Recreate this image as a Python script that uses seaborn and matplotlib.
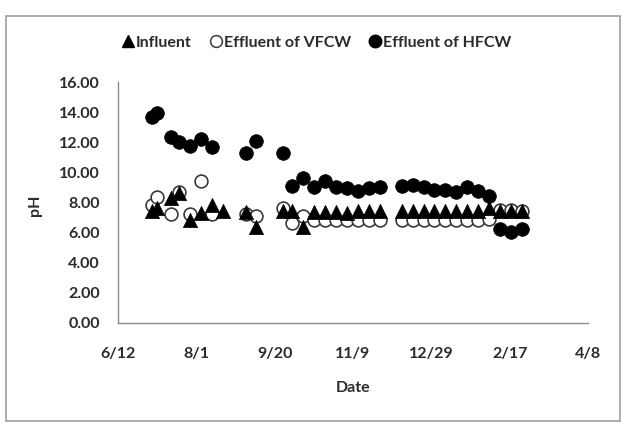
import matplotlib
matplotlib.use("Agg")
import matplotlib.pyplot as plt
import matplotlib.dates as mdates
from matplotlib.patches import Rectangle
from matplotlib.lines import Line2D
import seaborn as sns
import pandas as pd

YEAR_A = 2012
YEAR_B = 2013

influent_dates = ["7/4", "7/7", "7/16", "7/21", "7/28", "8/4", "8/11", "8/18", "9/2", "9/8",
                  "9/25", "10/1", "10/8", "10/15", "10/22", "10/29", "11/5", "11/12", "11/19", "11/26",
                  "12/10", "12/17", "12/24", "12/31", "1/7", "1/14", "1/21", "1/28", "2/4", "2/11",
                  "2/18", "2/25"]
influent_ph = [7.4, 7.6, 8.3, 8.6, 6.8, 7.3, 7.8, 7.45, 7.35, 6.35,
               7.4, 7.4, 6.35, 7.35, 7.35, 7.35, 7.3, 7.4, 7.45, 7.45,
               7.4, 7.4, 7.4, 7.4, 7.4, 7.4, 7.4, 7.4, 7.6, 7.45,
               7.45, 7.4]

vfcw_dates = ["7/4", "7/7", "7/16", "7/21", "7/28", "8/4", "8/11", "9/2", "9/8",
              "9/25", "10/1", "10/8", "10/15", "10/22", "10/29", "11/5", "11/12", "11/19", "11/26",
              "12/10", "12/17", "12/24", "12/31", "1/7", "1/14", "1/21", "1/28", "2/4", "2/11",
              "2/18", "2/25"]
vfcw_ph = [7.8, 8.35, 7.25, 8.7, 7.25, 9.4, 7.2, 7.25, 7.1,
           7.6, 6.6, 7.1, 6.8, 6.85, 6.8, 6.8, 6.8, 6.8, 6.8,
           6.85, 6.8, 6.8, 6.8, 6.8, 6.8, 6.8, 6.8, 6.9, 7.5,
           7.5, 7.45]

hfcw_dates = ["7/4", "7/7", "7/16", "7/21", "7/28", "8/4", "8/11", "9/2", "9/8",
              "9/25", "10/1", "10/8", "10/15", "10/22", "10/29", "11/5", "11/12", "11/19", "11/26",
              "12/10", "12/17", "12/24", "12/31", "1/7", "1/14", "1/21", "1/28", "2/4", "2/11",
              "2/18", "2/25"]
hfcw_ph = [13.7, 13.95, 12.35, 12.0, 11.75, 12.2, 11.65, 11.3, 12.05,
           11.3, 9.1, 9.6, 9.0, 9.45, 9.05, 8.95, 8.75, 8.95, 9.05,
           9.1, 9.15, 9.05, 8.85, 8.85, 8.7, 9.05, 8.75, 8.4, 6.2,
           6.05, 6.2]

series_names = ["Influent", "Effluent of VFCW", "Effluent of HFCW"]
x_start = "6/12/2012"
x_end = "4/8/2013"
y_ticks = [0, 2, 4, 6, 8, 10, 12, 14, 16]


def to_dates(md_list):
    out = []
    for s in md_list:
        m, d = (int(v) for v in s.split("/"))
        yr = YEAR_A if m >= 6 else YEAR_B
        out.append(pd.Timestamp(year=yr, month=m, day=d))
    return out


df_inf = pd.DataFrame({"Date": to_dates(influent_dates), "pH": influent_ph})
df_v = pd.DataFrame({"Date": to_dates(vfcw_dates), "pH": vfcw_ph})
df_h = pd.DataFrame({"Date": to_dates(hfcw_dates), "pH": hfcw_ph})

sns.set_style("white")
plt.rcParams["font.family"] = ["Lato", "DejaVu Sans"]

W, H = 626, 424
fig = plt.figure(figsize=(W / 100, H / 100), dpi=100)
fig.patch.set_facecolor("white")

# outer chart border
fig.patches.append(Rectangle((6 / W, 1 - 421 / H), (620 - 6) / W, (421 - 16) / H,
                             transform=fig.transFigure, fill=False,
                             edgecolor="#a6a6a6", linewidth=1.3))

x0, x1, yb, yt = 118, 588, 322.7, 82
ax = fig.add_axes([x0 / W, 1 - yb / H, (x1 - x0) / W, (yb - yt) / H])

text_col = "#2b2b2b"
sns.scatterplot(data=df_v, x="Date", y="pH", ax=ax, marker="o", s=85,
                facecolor="white", edgecolor="#3a3a3a", linewidth=1.2, zorder=2)
sns.scatterplot(data=df_inf, x="Date", y="pH", ax=ax, marker="^", s=105,
                color="black", edgecolor="black", linewidth=0.5, zorder=3)
sns.scatterplot(data=df_h, x="Date", y="pH", ax=ax, marker="o", s=97,
                color="black", edgecolor="black", linewidth=0.5, zorder=4)

ax.set_xlim(pd.Timestamp(x_start), pd.Timestamp(x_end))
ax.set_ylim(0, 16)
ticks = pd.date_range(x_start, x_end, freq="50D")
ax.set_xticks(ticks)
ax.xaxis.set_major_formatter(matplotlib.ticker.FuncFormatter(
    lambda v, p: f"{mdates.num2date(v).month}/{mdates.num2date(v).day}"))
ax.set_yticks(y_ticks)
ax.yaxis.set_major_formatter(matplotlib.ticker.FormatStrFormatter("%.2f"))

for side in ["top", "right"]:
    ax.spines[side].set_visible(False)
for side in ["left", "bottom"]:
    ax.spines[side].set_color("#8c8c8c")
    ax.spines[side].set_linewidth(1.0)

ax.tick_params(axis="x", direction="out", length=4, width=1, color="#8c8c8c",
               pad=13.5, labelsize=11.5, labelcolor=text_col)
ax.tick_params(axis="y", direction="out", length=4, width=1, color="#8c8c8c",
               pad=9, labelsize=11.5, labelcolor=text_col)
for lab in ax.get_xticklabels() + ax.get_yticklabels():
    lab.set_fontweight("bold")
ax.set_xlabel("")
ax.set_ylabel("")
ax.grid(False)

fig.text(353 / W, 1 - 388 / H, "Date", ha="center", va="center",
         fontsize=11.5, fontweight="bold", color=text_col)
fig.text(35 / W, 1 - 205 / H, "pH", ha="center", va="center", rotation=90,
         fontsize=11.5, fontweight="bold", color=text_col)

handles = [
    Line2D([], [], linestyle="none", marker="^", markersize=9, color="black"),
    Line2D([], [], linestyle="none", marker="o", markersize=8.5,
           markerfacecolor="white", markeredgecolor="#3a3a3a", markeredgewidth=1.1),
    Line2D([], [], linestyle="none", marker="o", markersize=9, color="black"),
]
leg = fig.legend(handles, series_names, loc="center", ncol=3,
                 bbox_to_anchor=(317 / W, 1 - 43 / H), frameon=False,
                 handlelength=0.7, handletextpad=0.15, columnspacing=1.15,
                 prop={"family": ["Lato", "DejaVu Sans"], "weight": "bold", "size": 11.5})
for t in leg.get_texts():
    t.set_color(text_col)

fig.savefig("out.png", dpi=100, facecolor="white")
